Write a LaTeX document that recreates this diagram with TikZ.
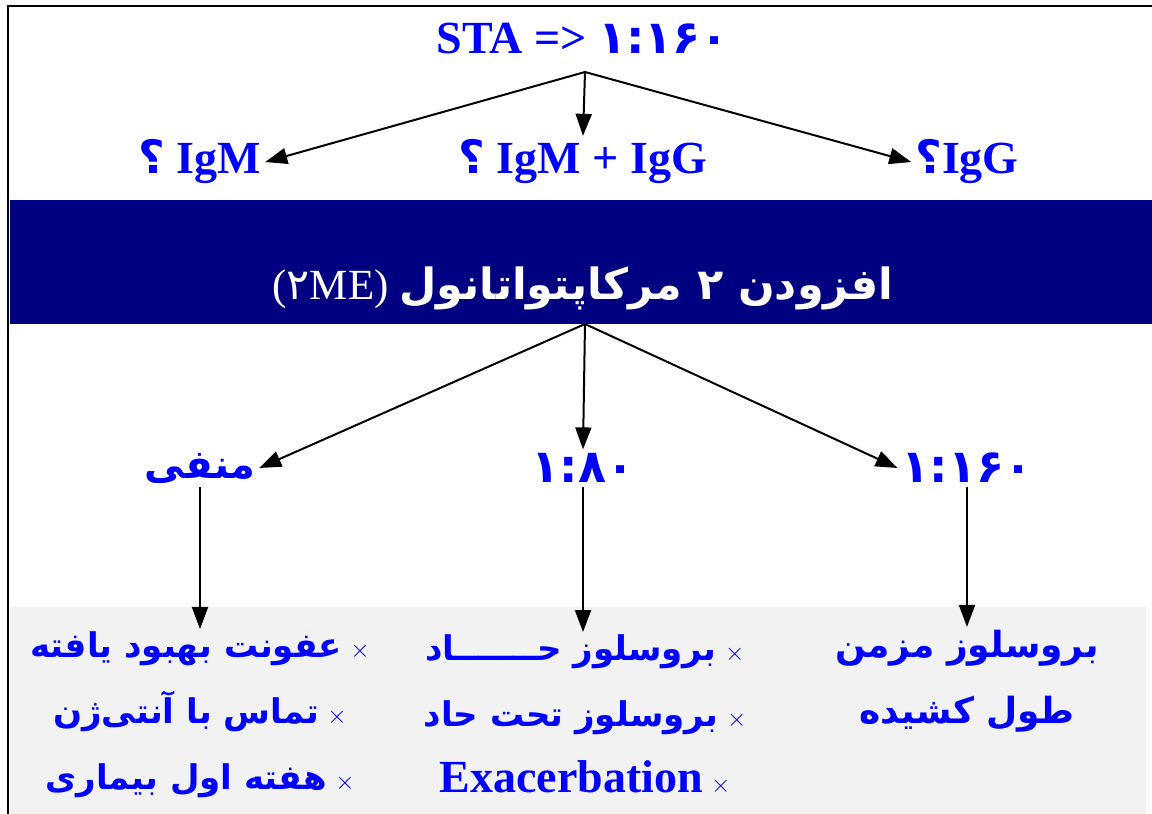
\documentclass[tikz,border=0pt]{standalone}
\usepackage{fontspec}
\setmainfont{Liberation Serif}
\newfontfamily\arabicfont[Script=Arabic]{DejaVu Sans}
\usetikzlibrary{arrows.meta}
\TeXXeTstate=1
\definecolor{banner}{HTML}{000080}
\definecolor{panel}{HTML}{F2F2F2}
\definecolor{txtblue}{HTML}{0000FF}
\newcommand{\fa}[1]{{\arabicfont\beginR #1\endR}}
\newcommand{\fanum}[1]{{\arabicfont #1}}
\newcommand{\crossmark}{{\fontsize{32}{32}\selectfont$\times$}}

\begin{document}
\begin{tikzpicture}[x=1pt,y=-1pt,line width=2pt,>={Triangle[length=22pt,width=16pt]}]
            \useasboundingbox (0,0) rectangle (1152,814);
            \fill[panel] (10,607) rectangle (1146,814);
            \fill[banner] (10,200) rectangle (1152,324);
            \draw[line width=2.4pt] (8,814) -- (8,6) -- (1152,6);
            \coordinate (top) at (585,72);
            \coordinate (fan) at (585,324);
            \begin{scope}[every node/.style={text=txtblue,inner sep=3pt,font=\bfseries\fontsize{46}{50}\selectfont}]
                \node (sta) at (583,38) {STA => \fanum{۱:۱۶۰}};
                \node (igm) at (200,162) {\fanum{؟} IgM};
                \node (both) at (583,162) {\fanum{؟} IgM + IgG};
                \node (igg) at (967,162) {\fanum{؟}IgG};
                \node[text=white,font=\bfseries\fontsize{43}{50}\selectfont] (addme) at (583,288) {{\mdseries (\fanum{۲}ME)} \fa{افزودن ۲ مرکاپتواتانول}};
                \node[font=\bfseries\fontsize{40}{50}\selectfont] (neg) at (200,468) {\fa{منفی}};
                \node (r80) at (583,468) {\fanum{۱:۸۰}};
                \node (r160) at (967,468) {\fanum{۱:۱۶۰}};
            \end{scope}
            \begin{scope}[every node/.style={text=txtblue,align=center,inner sep=2pt,font=\bfseries\fontsize{34}{66}\selectfont}]
                \node (mild) at (200,715) {\fa{عفونت بهبود یافته}\ \crossmark\\ \fa{تماس با آنتی‌ژن}\ \crossmark\\ \fa{هفته اول بیماری}\ \crossmark};
                \node (acute) at (585,715) {\fa{بروسلوز حـــــــاد}\ \crossmark\\ \fa{بروسلوز تحت حاد}\ \crossmark\\ {\fontsize{46}{66}\selectfont Exacerbation} \crossmark};
                \node[font=\bfseries\fontsize{36}{66}\selectfont] (chronic) at (967,681) {\fa{بروسلوز مزمن}\\ \fa{طول کشیده}};
            \end{scope}
            \draw (top) edge [->] (igm.east);
            \draw (top) edge [->] (both.north);
            \draw (top) edge [->] (igg.west);
            \draw (fan) edge [->] (neg.east);
            \draw (fan) edge [->] (r80.north);
            \draw (fan) edge [->] (r160.west);
            \draw (neg) edge [->] (neg |- mild.north);
            \draw (r80) edge [->] (r80 |- acute.north);
            \draw (r160) edge [->] (r160 |- chronic.north);
        \end{tikzpicture}
\end{document}
